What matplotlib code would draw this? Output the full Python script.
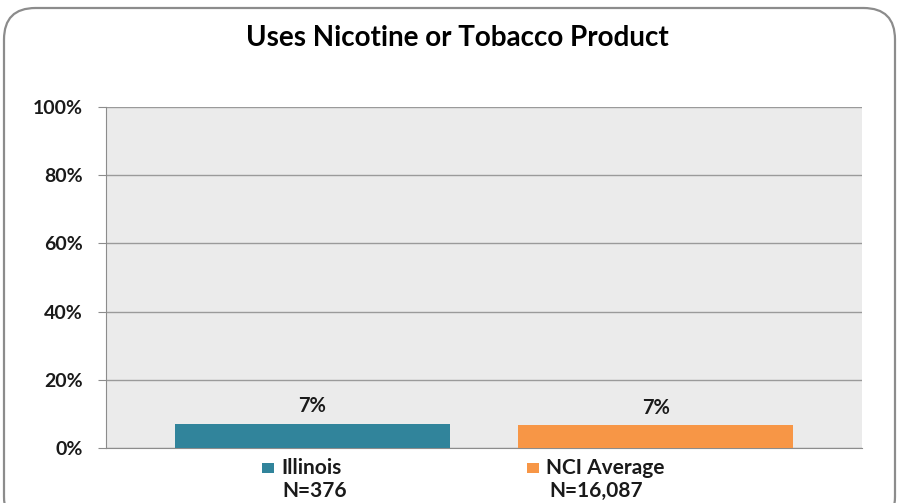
import matplotlib
matplotlib.use("Agg")
import matplotlib.pyplot as plt
from matplotlib.patches import FancyBboxPatch, Rectangle

categories = ["Illinois", "NCI Average"]
sample_sizes = ["N=376", "N=16,087"]
values = [7.0, 6.6]
labels = ["7%", "7%"]
colors = ["#31849B", "#F79646"]
yticks = [0, 20, 40, 60, 80, 100]

plt.rcParams['font.family'] = ['Lato', 'DejaVu Sans']

W, H = 900, 503
fig = plt.figure(figsize=(W/100, H/100), dpi=100)
fig.patch.set_facecolor("white")

# outer rounded frame
frame = FancyBboxPatch((4/W, -0.05), (891/W), (1 - 8/H) + 0.05,
                       boxstyle="round,pad=0,rounding_size=0.035",
                       transform=fig.transFigure, fill=False,
                       edgecolor="#8c8c8c", linewidth=1.6, mutation_aspect=W/H)
fig.patches.append(frame)

ax = fig.add_axes([106/W, 1 - 448/H, (862-106)/W, (448-107)/H])
ax.set_facecolor("#EBEBEB")
x = list(range(len(categories)))
ax.bar(x, values, width=0.80, color=colors, zorder=3)
ax.set_xlim(-0.60, 1.60)
ax.set_ylim(0, 100)
ax.set_yticks(yticks)
ax.set_yticklabels([f"{t}%" for t in yticks], fontsize=14, fontweight="bold", color="#1a1a1a")
ax.tick_params(axis="y", length=6, color="#8c8c8c", pad=11)
ax.set_xticks([])
ax.grid(axis="y", color="#9a9a9a", linewidth=1, zorder=1)
for s in ["top", "right"]:
    ax.spines[s].set_visible(False)
ax.spines["left"].set_color("#8c8c8c")
ax.spines["bottom"].set_color("#8c8c8c")
for i, (v, lab) in enumerate(zip(values, labels)):
    ax.text(i, v + 2.3, lab, ha="center", va="bottom", fontsize=14.5, fontweight="bold", color="#1a1a1a")

fig.text(457/W, 1 - 38/H, "Uses Nicotine or Tobacco Product", ha="center", va="center",
         fontsize=20, fontweight="bold", color="#000000")

# legend-like category labels
sq_xs = [262, 527]
n_xs = [315, 596]
for i, (cat, n, c) in enumerate(zip(categories, sample_sizes, colors)):
    sq_x = sq_xs[i] / W
    fig.patches.append(Rectangle((sq_x, 1 - 473/H), 12/W, 10/H, transform=fig.transFigure,
                                 facecolor=c, edgecolor="none"))
    fig.text(sq_x + 19/W, 1 - 468/H, cat, ha="left", va="center", fontsize=15,
             fontweight="bold", color="#1a1a1a")
    fig.text(n_xs[i] / W, 1 - 491/H, n, ha="center", va="center", fontsize=15,
             fontweight="bold", color="#1a1a1a")

fig.savefig("out.png", dpi=100)
